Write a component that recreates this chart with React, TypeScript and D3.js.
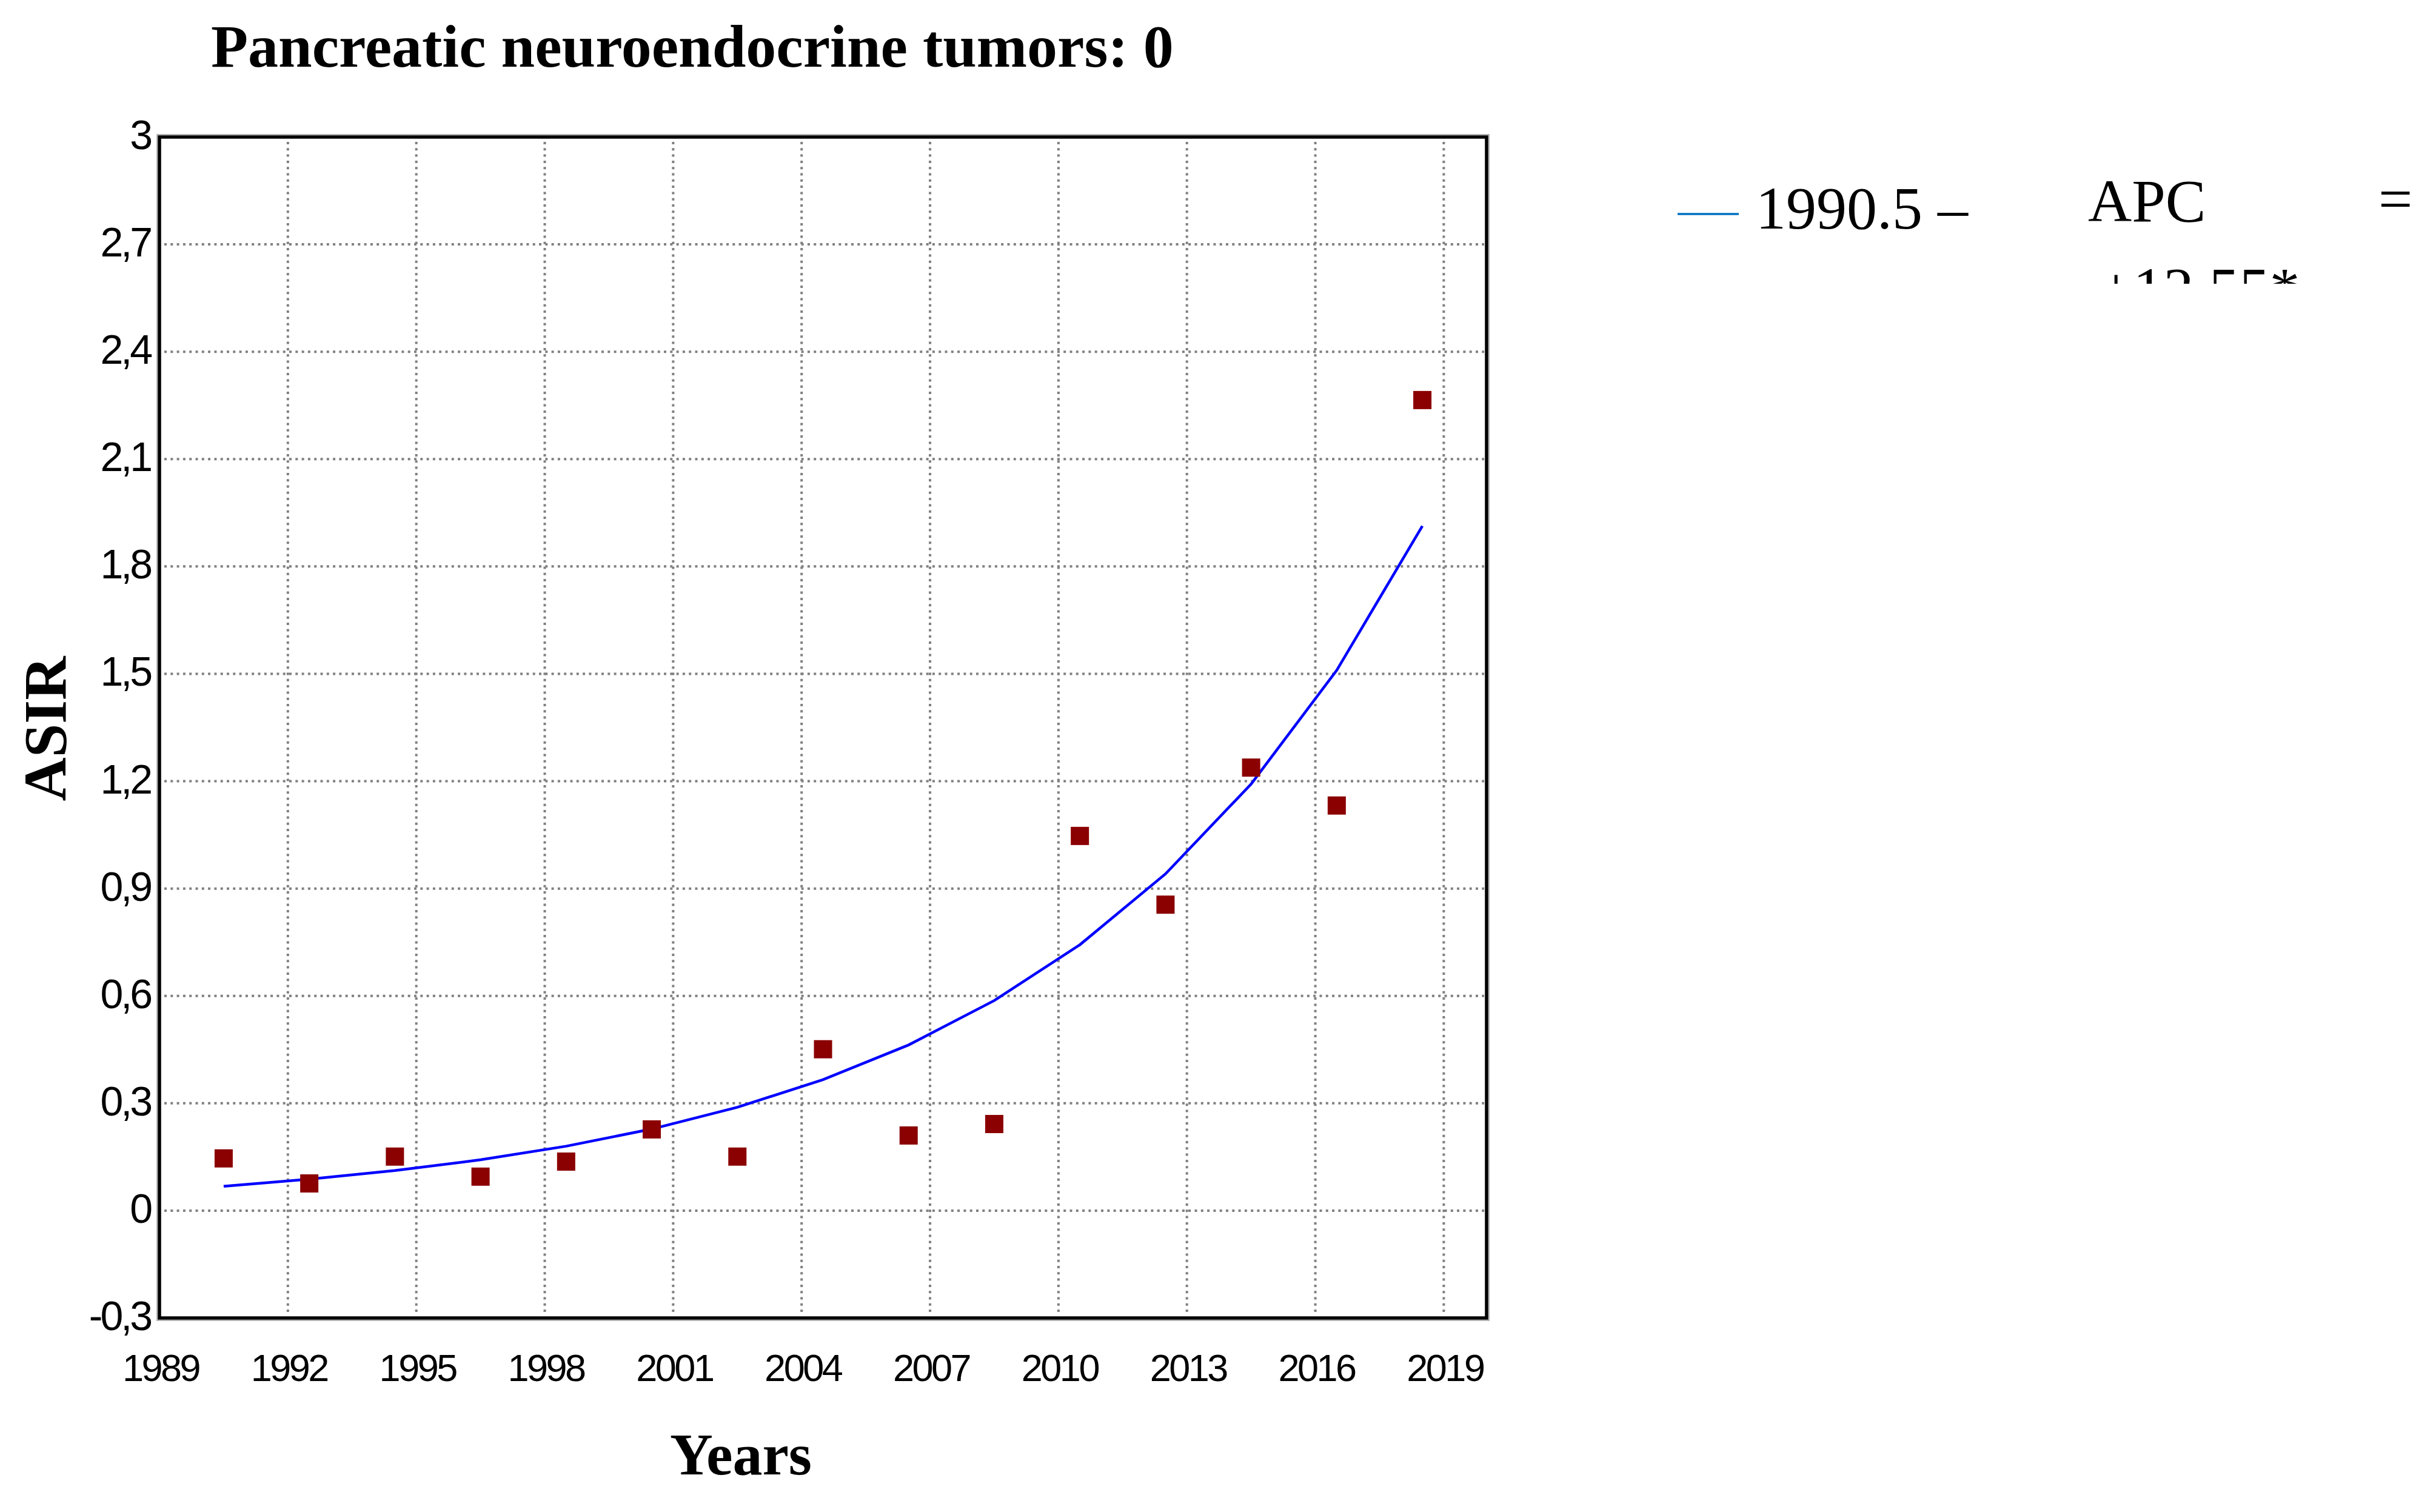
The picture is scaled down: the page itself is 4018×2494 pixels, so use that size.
import React from "react";
import * as d3 from "d3";

// ---- data ----
const years: number[] = [1990.5, 1992.5, 1994.5, 1996.5, 1998.5, 2000.5, 2002.5, 2004.5, 2006.5, 2008.5, 2010.5, 2012.5, 2014.5, 2016.5, 2018.5];
const observedASIR: number[] = [0.146, 0.076, 0.151, 0.095, 0.137, 0.227, 0.151, 0.451, 0.21, 0.242, 1.047, 0.855, 1.238, 1.132, 2.265];
const fittedASIR: number[] = [0.068, 0.088, 0.112, 0.142, 0.18, 0.228, 0.289, 0.366, 0.463, 0.587, 0.743, 0.941, 1.192, 1.51, 1.913];
const xTicks: number[] = [1989, 1992, 1995, 1998, 2001, 2004, 2007, 2010, 2013, 2016, 2019];
const yTicks: number[] = [-0.3, 0, 0.3, 0.6, 0.9, 1.2, 1.5, 1.8, 2.1, 2.4, 2.7, 3];
const titleText = "Pancreatic neuroendocrine tumors: 0";
const xTitle = "Years";
const yTitle = "ASIR";
const legendRange = "1990.5 \u2013";
const legendLabel = "APC";
const legendEq = "=";
const legendValue = "+12.55*";

const W = 4018;
const H = 2494;
const serif = "'Liberation Serif', 'Times New Roman', serif";
const sans = "'Liberation Sans', Arial, sans-serif";

export default function App() {
  const x = d3.scaleLinear().domain([1989, 2020]).range([263, 2452]);
  const y = d3.scaleLinear().domain([-0.3, 3]).range([2174, 226]);
  const [x0, x1] = x.range();
  const [yb, yt] = y.range();

  const fitPts: [number, number][] = years.map((yr, i) => [yr, fittedASIR[i]]);
  const line = d3
    .line<[number, number]>()
    .x((d) => x(d[0]))
    .y((d) => y(d[1]));

  const fmt = (v: number) => {
    const s = d3.format("")(Math.round(v * 10) / 10);
    return s.replace(".", ",").replace("\u2212", "-");
  };

  const ms = 30;

  return (
    <svg
      width={W}
      height={H}
      viewBox={`0 0 ${W} ${H}`}
      style={{ position: "absolute", left: 0, top: 0, background: "#fff" }}
    >
      <rect x={0} y={0} width={W} height={H} fill="#fff" />
      <defs>
        <clipPath id="legclip">
          <rect x={2700} y={200} width={1318} height={268} />
        </clipPath>
      </defs>

      {/* title */}
      <text x={348} y={110} fontFamily={serif} fontWeight="bold" fontSize={100} fill="#000">
        {titleText}
      </text>

      {/* gridlines */}
      <g stroke="#808080" strokeWidth={4} strokeDasharray="4 6.3">
        {xTicks
          .filter((t) => t > 1989)
          .map((t) => (
            <line key={"gx" + t} x1={x(t)} x2={x(t)} y1={yt + 8} y2={yb - 4} />
          ))}
        {yTicks
          .filter((t) => t > -0.3 && t < 3)
          .map((t) => (
            <line key={"gy" + t} x1={x0 + 8} x2={x1 - 4} y1={y(t)} y2={y(t)} />
          ))}
      </g>

      {/* fitted line */}
      <path d={line(fitPts) || ""} fill="none" stroke="#0000ff" strokeWidth={4.5} />

      {/* observed points */}
      <g fill="#8b0000">
        {years.map((yr, i) => (
          <rect key={"p" + i} x={x(yr) - ms / 2} y={y(observedASIR[i]) - ms / 2} width={ms} height={ms} />
        ))}
      </g>

      {/* frame */}
      <rect x={x0 - 4} y={yt - 4} width={x1 - x0 + 8} height={yb - yt + 8} fill="none" stroke="#b4b4b4" strokeWidth={2} />
      <rect x={x0} y={yt} width={x1 - x0} height={yb - yt} fill="none" stroke="#000" strokeWidth={5.5} />

      {/* y tick labels */}
      <g fontFamily={sans} fontSize={68} fill="#000" textAnchor="end">
        {yTicks.map((t) => (
          <text key={"yl" + t} x={248} y={y(t) + 20} letterSpacing={-4}>
            {fmt(t)}
          </text>
        ))}
      </g>

      {/* x tick labels */}
      <g fontFamily={sans} fontSize={63} fill="#000" textAnchor="middle">
        {xTicks.map((t) => (
          <text key={"xl" + t} x={x(t) + 2} y={2278} letterSpacing={-3.5}>
            {String(t)}
          </text>
        ))}
      </g>

      {/* axis titles */}
      <text x={1222} y={2432} fontFamily={serif} fontWeight="bold" fontSize={98} textAnchor="middle" fill="#000">
        {xTitle}
      </text>
      <text
        transform={`translate(108,1202) rotate(-90)`}
        fontFamily={serif}
        fontWeight="bold"
        fontSize={100}
        textAnchor="middle"
        fill="#000"
      >
        {yTitle}
      </text>

      {/* legend */}
      <g clipPath="url(#legclip)">
        <line x1={2767} x2={2868} y1={353} y2={353} stroke="#0070c0" strokeWidth={3.5} />
        <text x={2896} y={377} fontFamily={serif} fontSize={100} fill="#000">
          {legendRange}
        </text>
        <text x={3444} y={365} fontFamily={serif} fontSize={100} fill="#000">
          {legendLabel}
        </text>
        <text x={3923} y={362} fontFamily={serif} fontSize={100} fill="#000">
          {legendEq}
        </text>
        <text x={3462} y={510} fontFamily={serif} fontSize={100} fill="#000">
          {legendValue}
        </text>
      </g>
    </svg>
  );
}
